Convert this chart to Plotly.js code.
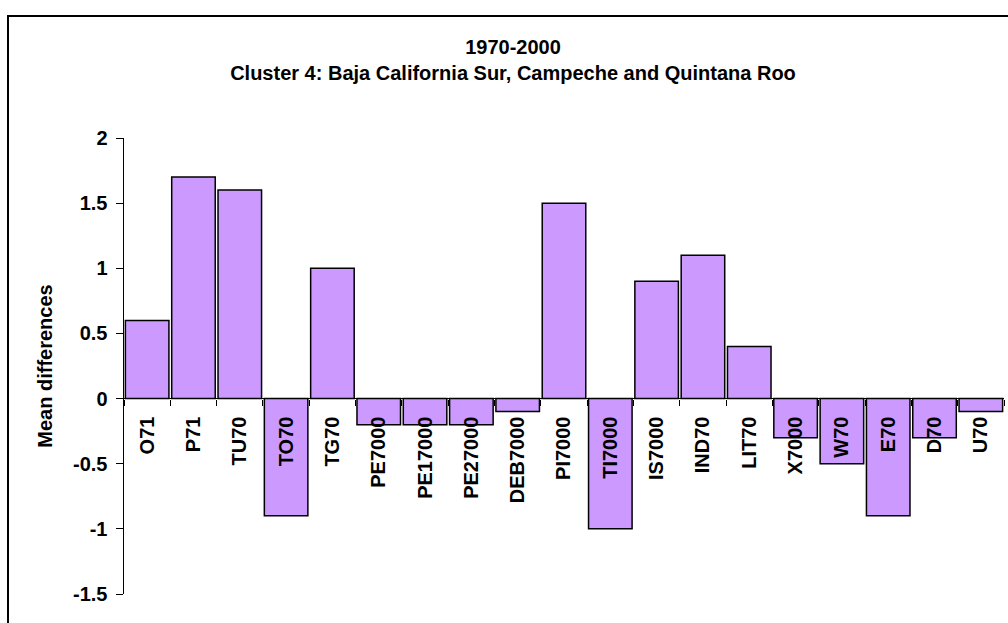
<!DOCTYPE html>
<html>
<head>
<meta charset="utf-8">
<script src="https://cdn.plot.ly/plotly-3.0.1.min.js"></script>
<style>html,body{margin:0;padding:0;background:#fff;}#chart{width:1008px;height:623px;}</style>
</head>
<body>
<div id="chart"></div>
<script>
var categories = ["O71","P71","TU70","TO70","TG70","PE7000","PE17000","PE27000","DEB7000","PI7000","TI7000","IS7000","IND70","LIT70","X7000","W70","E70","D70","U70"];
var meanDifferences = [0.6,1.7,1.6,-0.9,1.0,-0.2,-0.2,-0.2,-0.1,1.5,-1.0,0.9,1.1,0.4,-0.3,-0.5,-0.9,-0.3,-0.1];
var yTickValues = [-1.5,-1,-0.5,0,0.5,1,1.5,2];
var yTickLabels = ["-1.5","-1","-0.5","0","0.5","1","1.5","2"];
var titleLines = ["1970-2000","Cluster 4: Baja California Sur, Campeche and Quintana Roo"];
var yTitle = "Mean differences";

var FONT = "Liberation Sans, Arial, sans-serif";
var yMin = -1.5, yMax = 2;

var trace = {
  type: "bar",
  x: categories,
  y: meanDifferences,
  marker: {color: "#CC99FF", line: {color: "#000000", width: 1.5}},
  hoverinfo: "x+y"
};

var layout = {
  width: 1008, height: 623,
  margin: {l: 124, r: 4, t: 138, b: 29},
  paper_bgcolor: "#ffffff",
  plot_bgcolor: "#ffffff",
  showlegend: false,
  bargap: 0.06,
  font: {family: FONT, size: 20, color: "#000"},
  title: {
    text: "<b>" + titleLines[0] + "</b><br><b>" + titleLines[1] + "</b>",
    font: {family: FONT, size: 20, color: "#000"},
    x: 513/1008, xanchor: "center", xref: "container",
    y: 1 - 54/623, yanchor: "top", yref: "container"
  },
  xaxis: {
    type: "category",
    anchor: "free",
    position: (0 - yMin) / (yMax - yMin),
    showline: false,
    showgrid: false,
    zeroline: false,
    ticks: "outside",
    tickson: "boundaries",
    ticklen: 6,
    tickwidth: 1,
    tickcolor: "#000",
    tickangle: -90,
    tickfont: {family: FONT, size: 20, color: "#000", weight: "bold"},
    ticklabelstandoff: 13,
    automargin: false,
    fixedrange: true
  },
  yaxis: {
    range: [yMin, yMax],
    tickvals: yTickValues,
    ticktext: yTickLabels,
    showline: true,
    linecolor: "#000",
    linewidth: 1.5,
    showgrid: false,
    zeroline: true,
    zerolinecolor: "#000",
    zerolinewidth: 1.5,
    ticks: "outside",
    ticklen: 7,
    tickwidth: 1,
    tickcolor: "#000",
    tickfont: {family: FONT, size: 20, color: "#000", weight: "bold"},
    ticklabelstandoff: 4,
    title: {text: "<b>" + yTitle + "</b>", font: {family: FONT, size: 20, color: "#000"}, standoff: 15},
    automargin: false,
    fixedrange: true
  },
  shapes: [{
    type: "rect", xref: "paper", yref: "paper",
    x0: (8 - 124) / 880, x1: 1.05,
    y0: -0.2, y1: (594 - 16) / 456,
    line: {color: "#000", width: 2},
    fillcolor: "rgba(0,0,0,0)",
    layer: "below"
  }]
};

Plotly.newPlot("chart", [trace], layout, {staticPlot: true, displayModeBar: false});
</script>
</body>
</html>
